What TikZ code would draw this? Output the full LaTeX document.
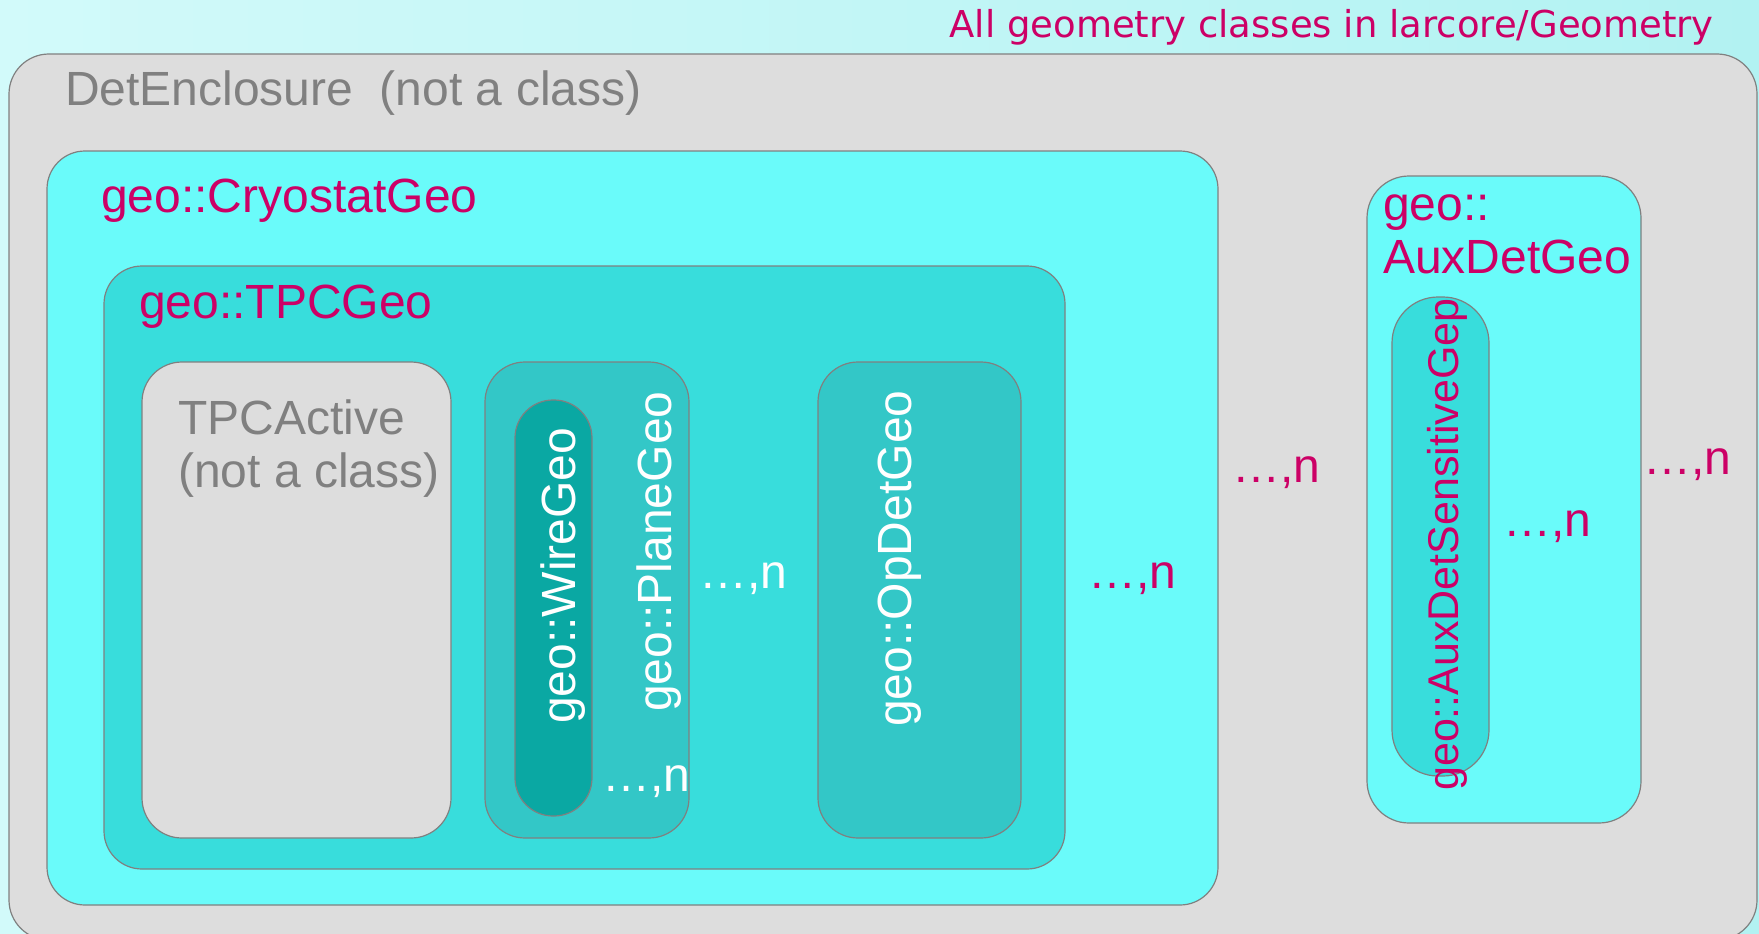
\documentclass[tikz,border=0pt]{standalone}
\usepackage{fontspec}
\setmainfont{Liberation Sans}
\newfontfamily\titlefont{DejaVu Sans}
\usetikzlibrary{positioning}

\definecolor{geomag}{RGB}{204,0,102}
\definecolor{textgray}{RGB}{128,128,128}
\definecolor{edgegray}{RGB}{128,128,128}
\definecolor{encl}{RGB}{221,221,221}
\definecolor{cryofill}{RGB}{106,251,250}
\definecolor{tpcfill}{RGB}{56,221,220}
\definecolor{planefill}{RGB}{51,199,199}
\definecolor{wirefill}{RGB}{10,168,163}
\definecolor{bgleft}{RGB}{210,250,250}
\definecolor{bgright}{RGB}{178,242,242}

\begin{document}
\begin{tikzpicture}[
    x=1pt, y=1pt,
    box/.style={rectangle, draw=edgegray, line width=1.2pt, anchor=north west, inner sep=0pt, outer sep=0pt, rounded corners=38pt},
    lbl/.style={anchor=base west, inner sep=0pt, font=\fontsize{48}{53}\selectfont, text=geomag, align=left},
    note/.style={lbl, text=textgray},
    vlbl/.style={lbl, rotate=90, text=white},
    more/.style={lbl}
]

% Background
\fill[left color=bgleft, right color=bgright] (0,0) rectangle (1759,-934);
\useasboundingbox (0,0) rectangle (1759,-934);

% Boxes
\node[box, fill=encl, rounded corners=40pt, minimum width=1748pt, minimum height=886pt] (det) at (9,-54) {};
\node[box, fill=cryofill, minimum width=1171pt, minimum height=754pt] (cryo) at (47,-151) {};
\node[box, fill=tpcfill, minimum width=961pt, minimum height=603pt] (tpc) at (104,-266) {};
\node[box, fill=encl, rounded corners=40pt, minimum width=309pt, minimum height=476pt] (active) at (142,-362) {};
\node[box, fill=planefill, rounded corners=40pt, minimum width=204pt, minimum height=476pt] (plane) at (485,-362) {};
\node[box, fill=wirefill, minimum width=77pt, minimum height=416pt] (wire) at (515,-400) {};
\node[box, fill=planefill, rounded corners=40pt, minimum width=203pt, minimum height=476pt] (opdet) at (818,-362) {};
\node[box, fill=cryofill, rounded corners=42pt, minimum width=274pt, minimum height=647pt] (aux) at (1367,-176) {};
\node[box, fill=tpcfill, rounded corners=46pt, minimum width=97pt, minimum height=479pt] (auxsens) at (1392,-297) {};

% Title
\node[anchor=base east, inner sep=0pt, text=geomag, font=\titlefont\fontsize{37}{40}\selectfont] (title) at (1714,-38) {All geometry classes in larcore/Geometry};

% Box labels
\node[note] (detlbl) at ([shift={(56,-51)}]det.north west) {DetEnclosure\ \ (not a class)};
\node[lbl] (cryolbl) at ([shift={(54,-61)}]cryo.north west) {geo::CryostatGeo};
\node[lbl] (tpclbl) at ([shift={(35,-52)}]tpc.north west) {geo::TPCGeo};
\node[note] (activelbl) at ([shift={(36,-125)}]active.north west) {TPCActive\\(not a class)};
\node[lbl] (auxlbl) at ([shift={(16,-97)}]aux.north west) {geo::\\AuxDetGeo};
\node[vlbl] (wirelbl) at (575,-724) {geo::WireGeo};
\node[vlbl] (planelbl) at (671,-712) {geo::PlaneGeo};
\node[vlbl] (opdetlbl) at (911,-727) {geo::OpDetGeo};
\node[vlbl, text=geomag, font=\fontsize{43}{48}\selectfont] (auxsenslbl) at (1458,-791) {geo::AuxDetSensitiveGep};

% Multiplicities
\node[more, text=white] (nwire) at (602,-791) {…,n};
\node[more, text=white] (nplane) at (699,-588) {…,n};
\node[more] (ntpc) at (1088,-588) {…,n};
\node[more] (ncryo) at (1232,-482) {…,n};
\node[more] (nauxsens) at (1503,-536) {…,n};
\node[more] (naux) at (1643,-474) {…,n};

\end{tikzpicture}
\end{document}
